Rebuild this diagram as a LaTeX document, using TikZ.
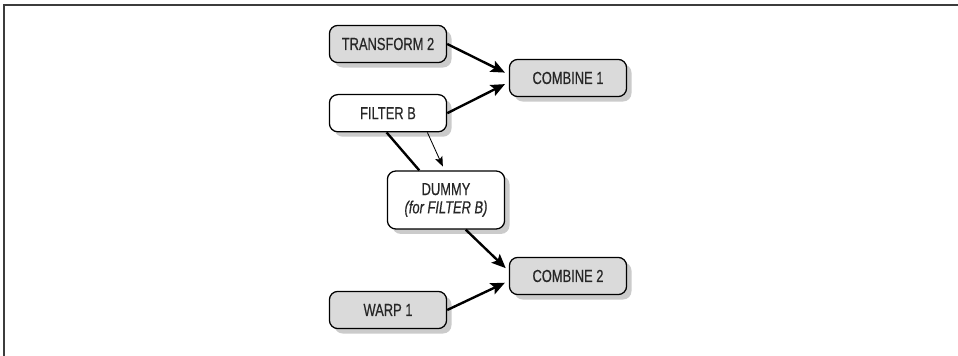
\documentclass[tikz,border=0pt]{standalone}
\usepackage{fontspec}
\setmainfont{Liberation Sans}[FakeStretch=0.74,FakeBold=0.4]
\usetikzlibrary{arrows.meta,shadows}
\definecolor{boxgray}{RGB}{218,218,218}
\definecolor{framegray}{RGB}{60,60,60}

\begin{document}
\begin{tikzpicture}[
  box/.style={draw, line width=0.9pt, rounded corners=6pt, fill=white,
    minimum width=2.93cm, minimum height=0.93cm, align=center,
    font=\fontsize{12.4}{14}\selectfont, text=black!85,
    drop shadow={fill=black!45, opacity=0.45, shadow xshift=3.5pt, shadow yshift=-3.5pt}},
  graybox/.style={box, fill=boxgray},
  link/.style={line width=1.7pt, shorten >=3pt,
    -{Stealth[length=10pt,width=8.5pt,inset=2pt]}},
  thinlink/.style={line width=0.6pt, shorten >=3pt,
    -{Stealth[length=7pt,width=5.5pt,inset=1.5pt]}}
]
  \useasboundingbox (0,0) rectangle (23.95,-8.9);
  % open frame, top and left only
  \draw[framegray, line width=1pt] (23.95,-0.125) -- (0.1,-0.125) -- (0.1,-8.9);

  % nodes
  \node[graybox] (transform2) at (9.70,-1.10) {TRANSFORM 2};
  \node[graybox] (combine1)   at (14.20,-1.95) {COMBINE 1};
  \node[box]     (filterb)    at (9.70,-2.83) {FILTER B};
  \node[box, minimum height=1.45cm] (dummy) at (11.15,-5.00)
    {DUMMY\\[-1pt]{\itshape (for FILTER B)}};
  \node[graybox] (combine2)   at (14.20,-6.90) {COMBINE 2};
  \node[graybox] (warp1)      at (9.70,-7.75) {WARP 1};

  % connectors
  \draw[link] (transform2.east) -- ([yshift=2.5pt]combine1.west);
  \draw[link] (filterb.east) -- ([yshift=-3pt]combine1.west);
  \draw[line width=1.7pt] ([xshift=-1pt]filterb.south) -- ([xshift=-19pt]dummy.north);
  \draw[thinlink] ([xshift=28pt]filterb.south) -- ([xshift=-1pt]dummy.north);
  \draw[link] ([xshift=14pt]dummy.south) -- ([yshift=3.5pt]combine2.west);
  \draw[link] (warp1.east) -- ([yshift=-3.5pt]combine2.west);
\end{tikzpicture}
\end{document}
